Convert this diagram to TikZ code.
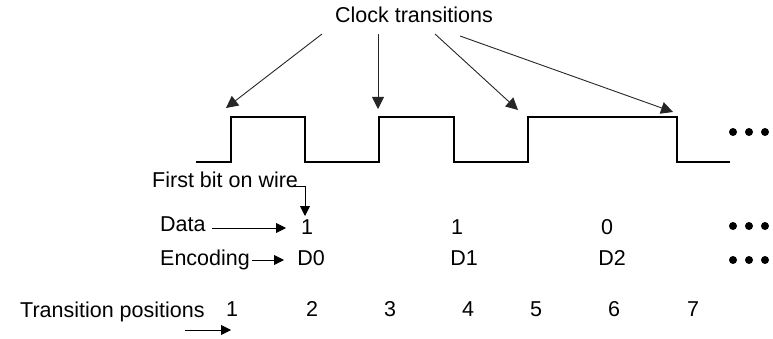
\documentclass[tikz,border=0pt]{standalone}
\usepackage{fontspec}
\setmainfont{Liberation Sans}
\usetikzlibrary{arrows.meta}
\begin{document}
\begin{tikzpicture}[x=1pt,y=-1pt,
  lbl/.style={inner sep=0pt,font=\fontsize{21.5}{24}\selectfont},
  bigarr/.style={draw=black!85,line width=0.9pt,-{Triangle[length=12pt,width=12pt]}},
  smarr/.style={draw=black,line width=0.9pt,-{Triangle[length=10pt,width=10pt]}},
  wave/.style={line width=2.6pt,line join=miter,line cap=butt},
  dot/.style={circle,fill=black,inner sep=0pt,minimum size=8pt}]
\useasboundingbox (0,0) rectangle (773,339);
% title
\node[lbl,anchor=base] (ct) at (414,23) {Clock transitions};
% waveform
\draw[wave] (196,162) -- (231,162) -- (231,117) -- (305,117) -- (305,162)
  -- (379,162) -- (379,117) -- (454,117) -- (454,162) -- (528,162)
  -- (528,117) -- (677,117) -- (677,162) -- (730,162);
\node[dot] (w1) at (733,132) {};
\node[dot] (w2) at (749,132) {};
\node[dot] (w3) at (765,132) {};
% clock arrows
\coordinate (s1) at (322,34);
\coordinate (s2) at (378,34);
\coordinate (s3) at (435,34);
\coordinate (s4) at (460,36);
\coordinate (t1) at (226,108);
\coordinate (t2) at (378,109);
\coordinate (t3) at (518,110);
\coordinate (t4) at (673,112);
\draw[bigarr] (s1) -- (t1);
\draw[bigarr] (s2) -- (t2);
\draw[bigarr] (s3) -- (t3);
\draw[bigarr] (s4) -- (t4);
% first bit
\node[lbl,anchor=base west] (fb) at (152,188) {First bit on wire};
\coordinate (fbs) at (291,186);
\coordinate (fbt) at (305,216);
\draw[smarr] (fbs) -| (fbt);
% data row
\node[lbl,anchor=base west] (dl) at (160,231) {Data};
\node[lbl,anchor=base] (d1) at (307,234) {1};
\node[lbl,anchor=base] (d2) at (457,234) {1};
\node[lbl,anchor=base] (d3) at (607,234) {0};
\coordinate (da) at (212,228);
\coordinate (db) at (286,228);
\draw[smarr] (da) -- (db);
\node[dot] (a1) at (733,226) {};
\node[dot] (a2) at (749,226) {};
\node[dot] (a3) at (765,226) {};
% encoding row
\node[lbl,anchor=base west] (el) at (160,265) {Encoding};
\node[lbl,anchor=base] (e0) at (311,265) {D0};
\node[lbl,anchor=base] (e1) at (464,265) {D1};
\node[lbl,anchor=base] (e2) at (612,265) {D2};
\coordinate (ea) at (252,260);
\coordinate (eb) at (284,260);
\draw[smarr] (ea) -- (eb);
\node[dot] (b1) at (733,260) {};
\node[dot] (b2) at (749,260) {};
\node[dot] (b3) at (765,260) {};
% transition positions
\node[lbl,anchor=base west] (tp) at (20,317) {Transition positions};
\node[lbl,anchor=base] (p1) at (232,316) {1};
\node[lbl,anchor=base] (p2) at (312,316) {2};
\node[lbl,anchor=base] (p3) at (390,316) {3};
\node[lbl,anchor=base] (p4) at (468,316) {4};
\node[lbl,anchor=base] (p5) at (536,316) {5};
\node[lbl,anchor=base] (p6) at (614,316) {6};
\node[lbl,anchor=base] (p7) at (693,316) {7};
\coordinate (ta) at (185,330);
\coordinate (tb) at (231,330);
\draw[smarr] (ta) -- (tb);
\end{tikzpicture}
\end{document}
